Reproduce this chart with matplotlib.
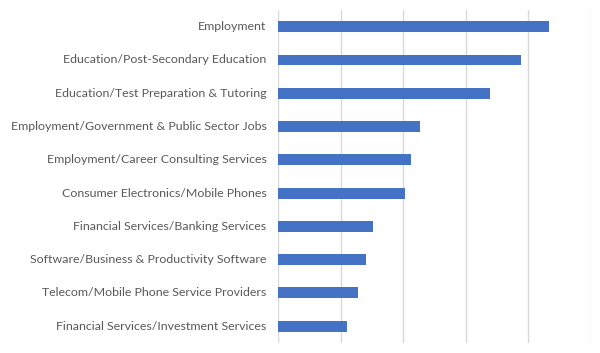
import matplotlib
matplotlib.use("Agg")
import matplotlib.pyplot as plt

categories = [
    "Employment",
    "Education/Post-Secondary Education",
    "Education/Test Preparation & Tutoring",
    "Employment/Government & Public Sector Jobs",
    "Employment/Career Consulting Services",
    "Consumer Electronics/Mobile Phones",
    "Financial Services/Banking Services",
    "Software/Business & Productivity Software",
    "Telecom/Mobile Phone Service Providers",
    "Financial Services/Investment Services",
]
values = [4.33, 3.89, 3.39, 2.26, 2.12, 2.02, 1.51, 1.40, 1.28, 1.10]
grid_ticks = [0, 1, 2, 3, 4, 5]

plt.rcParams['font.family'] = ['Lato', 'DejaVu Sans']

fig = plt.figure(figsize=(6.0, 3.53), dpi=100)
ax = fig.add_axes([278.3/600, 1-342.7/353, (590.7-278.3)/600, (342.7-10.1)/353])

y = list(range(len(categories)))
ax.barh(y, values, height=0.33, color="#4472C4", zorder=3)
ax.set_yticks(y)
ax.set_yticklabels(categories, fontsize=8.95, color="#595959")
for lbl in ax.get_yticklabels():
    lbl.set_verticalalignment('center')
ax.set_ylim(len(categories) - 0.5, -0.5)
ax.set_xlim(grid_ticks[0], grid_ticks[-1])
ax.set_xticks(grid_ticks)
ax.set_xticklabels([])
ax.tick_params(axis='x', length=0)
ax.tick_params(axis='y', length=0, pad=8.5)
ax.grid(axis='x', color="#D9D9D9", linewidth=1, zorder=0)
for s in ax.spines.values():
    s.set_visible(False)

fig.savefig("out.png", dpi=100)
